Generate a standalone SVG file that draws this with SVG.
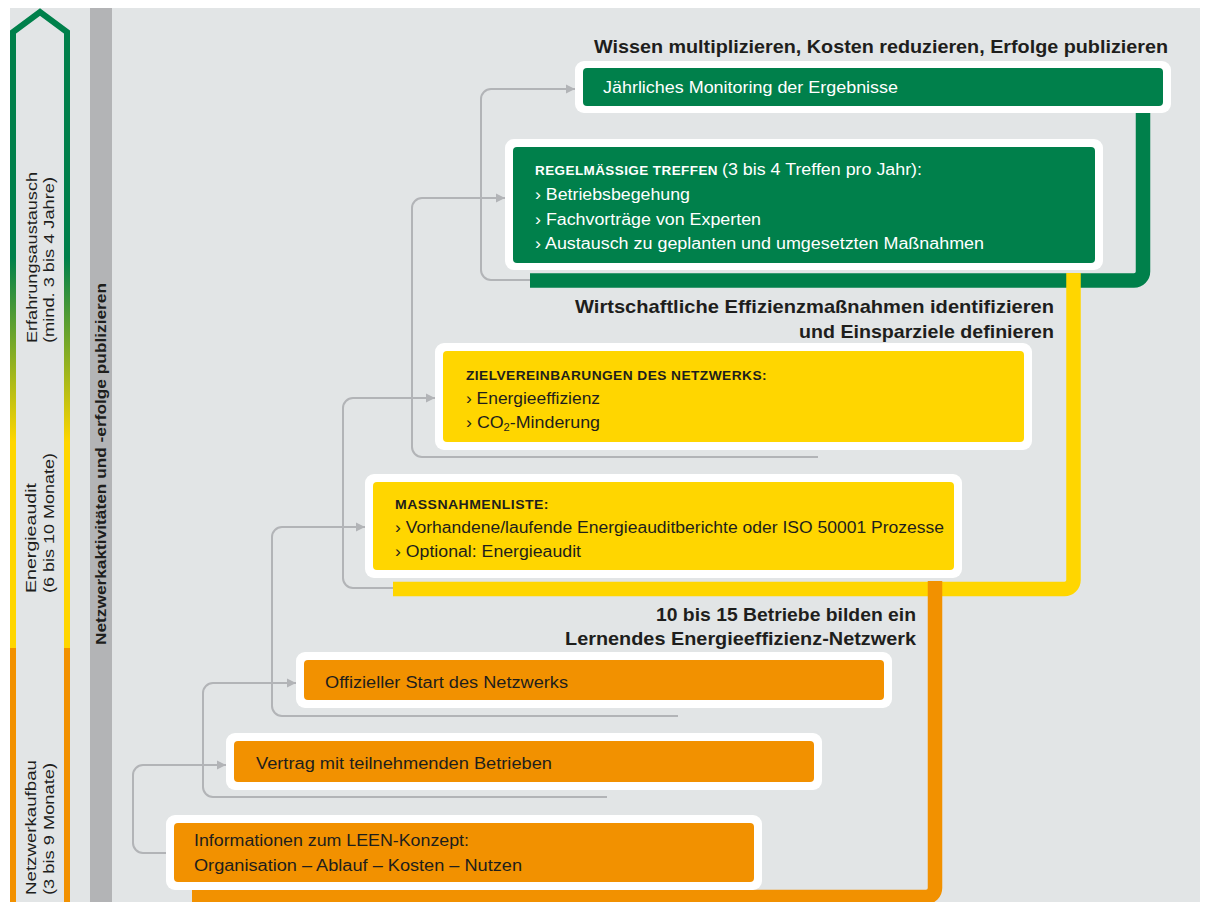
<svg xmlns="http://www.w3.org/2000/svg" width="1208" height="902" viewBox="0 0 1208 902">
<defs>
<linearGradient id="phase" gradientUnits="userSpaceOnUse" x1="0" y1="0" x2="0" y2="902">
<stop offset="0" stop-color="#00804b"/>
<stop offset="0.286" stop-color="#00804b"/>
<stop offset="0.49" stop-color="#ffd600"/>
<stop offset="0.718" stop-color="#ffd600"/>
<stop offset="0.718" stop-color="#f29100"/>
<stop offset="1" stop-color="#f29100"/>
</linearGradient>
<marker id="arr" markerUnits="userSpaceOnUse" markerWidth="10" markerHeight="10" refX="9" refY="5" orient="auto">
<path d="M0,0.5 L9,5 L0,9.5 z" fill="#b2b4b7"/>
</marker>
</defs>
<style>
.t{font-family:"Liberation Sans",Arial,sans-serif;fill:#1e1e1c}
.w{fill:#ffffff}
.body{font-size:16px}
.cap{font-size:12.5px;font-weight:bold;letter-spacing:0.4px}
.title{font-size:19px;font-weight:bold}
.side{font-size:15px}
.conn{fill:none;stroke:#b2b4b7;stroke-width:2}
.band{fill:none;stroke-width:14.5}
.frame{fill:#ffffff}
.g{fill:#00804b}
.y{fill:#ffd600}
.o{fill:#f29100}
</style>
<rect x="0" y="0" width="1208" height="902" fill="#ffffff"/>
<rect x="10" y="8" width="1190" height="894" fill="#e2e5e6"/>

<g id="phase-arrow">
<path d="M13 910 V32 L40 12 L67 32 V910" fill="none" stroke="url(#phase)" stroke-width="6" stroke-linejoin="miter"/>
<text class="t side" transform="translate(37,343) rotate(-90)" textLength="171" lengthAdjust="spacingAndGlyphs">Erfahrungsaustausch</text>
<text class="t side" transform="translate(54,343) rotate(-90)" textLength="166" lengthAdjust="spacingAndGlyphs">(mind. 3 bis 4 Jahre)</text>
<text class="t side" transform="translate(36,593) rotate(-90)" textLength="110" lengthAdjust="spacingAndGlyphs">Energieaudit</text>
<text class="t side" transform="translate(54,593) rotate(-90)" textLength="140" lengthAdjust="spacingAndGlyphs">(6 bis 10 Monate)</text>
<text class="t side" transform="translate(36,895) rotate(-90)" textLength="135" lengthAdjust="spacingAndGlyphs">Netzwerkaufbau</text>
<text class="t side" transform="translate(54,895) rotate(-90)" textLength="132" lengthAdjust="spacingAndGlyphs">(3 bis 9 Monate)</text>
</g>

<g id="activity-bar">
<rect x="90" y="8" width="22" height="894" fill="#b3b4b6"/>
<text class="t" transform="translate(106,645) rotate(-90)" font-size="14" font-weight="bold" textLength="362" lengthAdjust="spacingAndGlyphs">Netzwerkaktivitäten und -erfolge publizieren</text>
</g>

<g id="connectors">
<path class="conn" d="M166 853 H143 A10 10 0 0 1 133 843 V775 A10 10 0 0 1 143 765 H226" marker-end="url(#arr)"/>
<path class="conn" d="M607 797 H213 A10 10 0 0 1 203 787 V693 A10 10 0 0 1 213 683 H296" marker-end="url(#arr)"/>
<path class="conn" d="M678 716 H282 A10 10 0 0 1 272 706 V537 A10 10 0 0 1 282 527 H365" marker-end="url(#arr)"/>
<path class="conn" d="M396 588 H353 A10 10 0 0 1 343 578 V408 A10 10 0 0 1 353 398 H435" marker-end="url(#arr)"/>
<path class="conn" d="M818 457 H422 A10 10 0 0 1 412 447 V208 A10 10 0 0 1 422 198 H505" marker-end="url(#arr)"/>
<path class="conn" d="M533 280 H491 A10 10 0 0 1 481 270 V99 A10 10 0 0 1 491 89 H575" marker-end="url(#arr)"/>
</g>

<g id="bands">
<path class="band" stroke="#00804b" d="M530 280.5 H1134 A9 9 0 0 0 1143 271.5 V110"/>
<path class="band" stroke="#ffd600" d="M393 589 H1064.5 A9 9 0 0 0 1073.5 580 V273"/>
<path class="band" stroke="#f29100" d="M192 897 H926 A9 9 0 0 0 935 888 V581"/>
</g>

<g id="title-publish">
<text class="t title" x="1168" y="53" text-anchor="end" textLength="574" lengthAdjust="spacingAndGlyphs">Wissen multiplizieren, Kosten reduzieren, Erfolge publizieren</text>
</g>
<g id="title-measures">
<text class="t title" x="1054" y="313" text-anchor="end" textLength="479" lengthAdjust="spacingAndGlyphs">Wirtschaftliche Effizienzmaßnahmen identifizieren</text>
<text class="t title" x="1054" y="338" text-anchor="end" textLength="255" lengthAdjust="spacingAndGlyphs">und Einsparziele definieren</text>
</g>
<g id="title-network">
<text class="t title" x="916" y="621" text-anchor="end" textLength="260" lengthAdjust="spacingAndGlyphs">10 bis 15 Betriebe bilden ein</text>
<text class="t title" x="916" y="645" text-anchor="end" textLength="351" lengthAdjust="spacingAndGlyphs">Lernendes Energieeffizienz-Netzwerk</text>
</g>

<g id="node-monitoring">
<rect class="frame" x="575" y="61" width="596" height="52" rx="9"/>
<rect class="g" x="583" y="68" width="580" height="38" rx="4"/>
<text class="t w body" x="603" y="93" textLength="295" lengthAdjust="spacingAndGlyphs">Jährliches Monitoring der Ergebnisse</text>
</g>

<g id="node-treffen">
<rect class="frame" x="505" y="139" width="598" height="131" rx="9"/>
<rect class="g" x="513" y="147" width="582" height="116" rx="4"/>
<text class="t w cap" x="535" y="175" textLength="183" lengthAdjust="spacingAndGlyphs">REGELMÄSSIGE TREFFEN</text>
<text class="t w body" x="722" y="175" textLength="200" lengthAdjust="spacingAndGlyphs">(3 bis 4 Treffen pro Jahr):</text>
<text class="t w body" x="535" y="200" textLength="155" lengthAdjust="spacingAndGlyphs">› Betriebsbegehung</text>
<text class="t w body" x="535" y="225" textLength="226" lengthAdjust="spacingAndGlyphs">› Fachvorträge von Experten</text>
<text class="t w body" x="535" y="249" textLength="449" lengthAdjust="spacingAndGlyphs">› Austausch zu geplanten und umgesetzten Maßnahmen</text>
</g>

<g id="node-ziel">
<rect class="frame" x="435" y="343" width="597" height="107" rx="9"/>
<rect class="y" x="443" y="351" width="581" height="91" rx="4"/>
<text class="t cap" x="466" y="380" textLength="301" lengthAdjust="spacingAndGlyphs">ZIELVEREINBARUNGEN DES NETZWERKS:</text>
<text class="t body" x="466" y="404" textLength="134" lengthAdjust="spacingAndGlyphs">› Energieeffizienz</text>
<text class="t body" x="466" y="428" textLength="134" lengthAdjust="spacingAndGlyphs">› CO<tspan font-size="10" dy="3">2</tspan><tspan dy="-3">-Minderung</tspan></text>
</g>

<g id="node-massnahmen">
<rect class="frame" x="365" y="474" width="597" height="104" rx="9"/>
<rect class="y" x="373" y="482" width="581" height="88" rx="4"/>
<text class="t cap" x="395" y="509" textLength="154" lengthAdjust="spacingAndGlyphs">MASSNAHMENLISTE:</text>
<text class="t body" x="395" y="533" textLength="549" lengthAdjust="spacingAndGlyphs">› Vorhandene/laufende Energieauditberichte oder ISO 50001 Prozesse</text>
<text class="t body" x="395" y="557" textLength="186" lengthAdjust="spacingAndGlyphs">› Optional: Energieaudit</text>
</g>

<g id="node-start">
<rect class="frame" x="296" y="652" width="596" height="56" rx="9"/>
<rect class="o" x="304" y="660" width="580" height="40" rx="4"/>
<text class="t body" x="325" y="688" textLength="243" lengthAdjust="spacingAndGlyphs">Offizieller Start des Netzwerks</text>
</g>

<g id="node-vertrag">
<rect class="frame" x="226" y="733" width="596" height="57" rx="9"/>
<rect class="o" x="234" y="741" width="580" height="41" rx="4"/>
<text class="t body" x="256" y="769" textLength="296" lengthAdjust="spacingAndGlyphs">Vertrag mit teilnehmenden Betrieben</text>
</g>

<g id="node-info">
<rect class="frame" x="166" y="815" width="596" height="75" rx="9"/>
<rect class="o" x="174" y="823" width="580" height="59" rx="4"/>
<text class="t body" x="194" y="846" textLength="275" lengthAdjust="spacingAndGlyphs">Informationen zum LEEN-Konzept:</text>
<text class="t body" x="194" y="871" textLength="328" lengthAdjust="spacingAndGlyphs">Organisation – Ablauf – Kosten – Nutzen</text>
</g>
</svg>
